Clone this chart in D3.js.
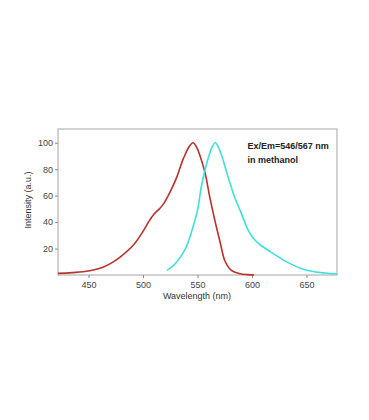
<!DOCTYPE html>
<html>
<head>
<meta charset="utf-8">
<script src="https://cdn.jsdelivr.net/npm/d3@7"></script>
<style>
  body { margin: 0; background: #fff; }
  svg { display: block; font-family: "Liberation Sans", Arial, sans-serif; }
</style>
</head>
<body>
<svg id="chart" width="369" height="420"></svg>
<script>
// excitation spectrum
var exWave = [422, 435, 450, 462, 470, 479, 491, 500, 505, 510, 515, 519, 525, 531, 537, 543, 546, 549, 552, 557, 561, 566, 571, 575, 581, 589, 596, 602];
var exVal  = [1.2, 1.8, 3, 5.5, 8.6, 13.6, 22.5, 33, 40, 46, 50, 54, 63, 74, 88, 98, 100, 97, 91, 77, 60, 41, 24, 11, 3.5, 1, 0.3, 0];

// emission spectrum
var emWave = [522, 527, 532, 539, 545, 550, 554, 559, 563, 566.5, 571, 577, 584, 590, 597, 602, 608, 620, 634, 645, 657, 667, 678];
var emVal  = [3.5, 6.5, 11, 20, 34, 49, 69, 86, 96, 100, 93, 77, 59, 47, 33, 27, 22.5, 16, 9, 5, 2.5, 1.5, 0.8];

var xTicks = [450, 500, 550, 600, 650];
var yTicks = [20, 40, 60, 80, 100];
var notes = ["Ex/Em=546/567 nm", "in methanol"];

var svg = d3.select("#chart");
var plotL = 58, plotR = 337, plotT = 129, plotB = 275;

var x = d3.scaleLinear().domain([422, 678]).range([plotL, plotR]);
var y = d3.scaleLinear().domain([0, 110.4]).range([plotB, plotT]);

// frame
svg.append("rect")
    .attr("x", plotL).attr("y", plotT)
    .attr("width", plotR - plotL).attr("height", plotB - plotT)
    .attr("fill", "none").attr("stroke", "#b4b4b4").attr("stroke-width", 1.2);

var xAxis = svg.append("g")
    .attr("transform", "translate(0," + plotB + ")")
    .call(d3.axisBottom(x).tickValues(xTicks).tickSize(3).tickPadding(4));
var yAxis = svg.append("g")
    .attr("transform", "translate(" + plotL + ",0)")
    .call(d3.axisLeft(y).tickValues(yTicks).tickSize(3).tickPadding(2));

[xAxis, yAxis].forEach(function(a) {
    a.select(".domain").remove();
    a.selectAll("line").attr("stroke", "#888");
    a.selectAll("text").attr("fill", "#444").style("font-size", "9px");
});

var line = d3.line()
    .x(function(d) { return x(d[0]); })
    .y(function(d) { return y(d[1]); })
    .curve(d3.curveCatmullRom.alpha(0.5));

svg.append("path")
    .datum(d3.zip(exWave, exVal))
    .attr("d", line)
    .attr("fill", "none").attr("stroke", "#b8322c").attr("stroke-width", 1.6);

svg.append("path")
    .datum(d3.zip(emWave, emVal))
    .attr("d", line)
    .attr("fill", "none").attr("stroke", "#3fe0dc").attr("stroke-width", 1.6);

// axis titles
svg.append("text")
    .attr("x", 197).attr("y", 299)
    .attr("text-anchor", "middle")
    .attr("fill", "#333").style("font-size", "9px")
    .text("Wavelength (nm)");

svg.append("text")
    .attr("transform", "translate(31,200) rotate(-90)")
    .attr("text-anchor", "middle")
    .attr("fill", "#333").style("font-size", "9px")
    .text("Intensity (a.u.)");

svg.selectAll(".note")
    .data(notes)
    .enter().append("text")
    .attr("class", "note")
    .attr("x", 247.5)
    .attr("y", function(d, i) { return 149 + i * 14; })
    .attr("fill", "#222")
    .style("font-size", "9px")
    .style("font-weight", "bold")
    .text(function(d) { return d; });
</script>
</body>
</html>
